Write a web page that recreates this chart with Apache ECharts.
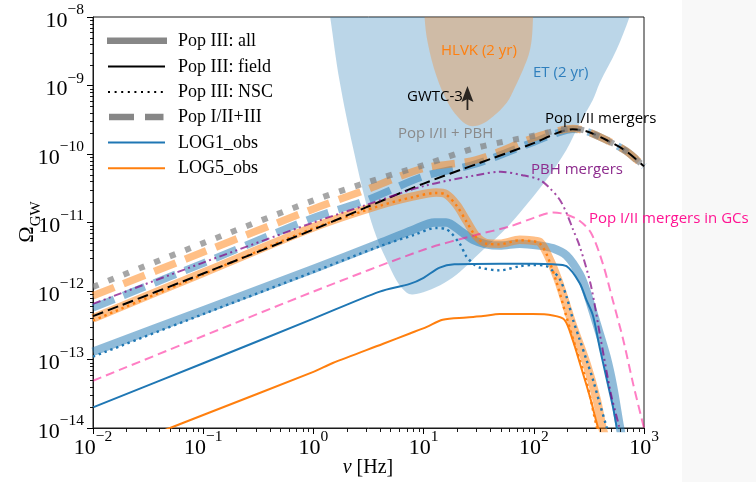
<!DOCTYPE html>
<html>
<head>
<meta charset="utf-8">
<script src="https://cdn.jsdelivr.net/npm/echarts@6/dist/echarts.min.js"></script>
<style>
  html, body { margin: 0; padding: 0; background: #ffffff; }
  #chart { width: 756px; height: 482px; }
</style>
</head>
<body>
<div id="chart"></div>
<script>
// Axis ranges (frequency in Hz, energy density Omega_GW)
const xRange = [1e-2, 1e3];
const yRange = [1e-14, 1e-8];

// Detector power-law sensitivity boundaries (regions above are shaded)
const etCurve = [[1.15, 1e-7], [1.41, 1.08e-8], [1.73, 1.15e-9], [2.29, 1.23e-10], [3.03, 1.82e-11],
  [3.73, 6.2e-12], [4.6, 2.85e-12], [5.66, 1.44e-12], [6.98, 9.5e-13], [7.96, 8.9e-13], [10.7, 1.0e-12],
  [15.5, 1.32e-12], [21.3, 1.9e-12], [32.3, 3.6e-12], [49, 6.6e-12], [74.5, 1.38e-11], [130, 4.2e-11],
  [198, 1.15e-10], [261, 2.8e-10], [344, 6.2e-10], [396, 1.09e-9], [562, 3.3e-9], [742, 1.02e-8], [1014, 4.9e-8]];
const hlvkCurve = [[9.8, 4.9e-8], [10.2, 1.0e-8], [10.9, 4.2e-9], [13.1, 1.36e-9], [16.6, 5.6e-10],
  [20.4, 3.5e-10], [25.7, 2.6e-10], [33, 2.7e-10], [42.4, 3.5e-10], [56.8, 5.6e-10], [67.1, 9.3e-10],
  [79.8, 1.7e-9], [89.9, 2.8e-9], [95.7, 4.7e-9], [98.4, 1.0e-8], [101.8, 4.9e-8]];

// GWTC-3 estimate (arrow base)
const gwtc3 = [[25, 4.4e-10]];

// Pop III: all
const log1All = [[0.01, 1.3e-13], [0.1, 5.2e-13], [1, 2.1e-12], [4, 5.0e-12], [8, 7.8e-12], [12.6, 1.0e-11],
  [16, 1.0e-11], [22.6, 7.1e-12], [28, 5.6e-12], [37, 4.8e-12], [49, 4.6e-12], [74.5, 4.9e-12], [113, 4.6e-12],
  [149, 4.2e-12], [198, 3.3e-12], [261, 1.75e-12], [300, 1.0e-12], [370, 3.4e-13], [456, 1.1e-13],
  [524, 4.0e-14], [603, 1.05e-14], [650, 6e-15]];
const log5All = [[0.01, 4.0e-13], [0.1, 1.85e-12], [1, 8.5e-12], [4, 1.8e-11], [8, 2.4e-11], [13, 2.75e-11],
  [16, 2.6e-11], [20, 1.8e-11], [24.6, 1.05e-11], [30.3, 6.2e-12], [37.3, 5.0e-12], [49, 4.9e-12],
  [74.5, 5.6e-12], [100, 5.4e-12], [113, 5.2e-12], [131, 3.6e-12], [165, 1.5e-12], [225, 3.2e-13],
  [302, 8.5e-14], [372, 2.6e-14], [420, 1.0e-14], [460, 6e-15]];

// Pop III: field
const log1Field = [[0.01, 2.0e-14], [0.1, 8.8e-14], [1, 3.95e-13], [4, 9.8e-13], [7.5, 1.27e-12], [10, 1.56e-12],
  [14, 2.2e-12], [19, 2.45e-12], [50, 2.5e-12], [100, 2.5e-12], [149, 2.45e-12], [198, 2.3e-12],
  [261, 1.3e-12], [300, 7.4e-13], [344, 4.4e-13], [396, 1.5e-13], [456, 5.4e-14], [524, 2.0e-14], [570, 9.5e-15]];
const log5Field = [[0.01, 3.6e-15], [0.05, 1.0e-14], [0.1, 1.55e-14], [1, 6.6e-14], [1.5, 8.9e-14],
  [4.3, 1.7e-13], [7.5, 2.4e-13], [10.7, 3.0e-13], [14.9, 3.8e-13], [24.5, 4.1e-13], [34.7, 4.3e-13],
  [49, 4.6e-13], [98, 4.6e-13], [149, 4.4e-13], [190, 3.8e-13], [225, 1.95e-13], [270, 7.5e-14],
  [322, 2.9e-14], [380, 1.05e-14], [420, 6e-15]];

// Pop III: NSC
const log1Nsc = [[0.01, 1.1e-13], [0.1, 4.6e-13], [1, 1.9e-12], [4, 4.5e-12], [8, 6.5e-12], [13, 8.3e-12],
  [16, 8.0e-12], [21.3, 4.9e-12], [24.4, 3.2e-12], [29, 2.4e-12], [32, 2.2e-12], [49, 2.0e-12], [74.5, 2.3e-12],
  [98.5, 2.4e-12], [130, 2.3e-12], [149, 1.95e-12], [172, 1.5e-12], [198, 8.3e-13], [227, 3.8e-13],
  [261, 1.95e-13], [300, 1.0e-13], [344, 5.1e-14], [396, 2.3e-14], [456, 1.05e-14], [500, 6e-15]];
const log5Nsc = [[0.01, 3.7e-13], [0.1, 1.75e-12], [1, 8.2e-12], [4, 1.75e-11], [8, 2.35e-11], [13, 2.7e-11],
  [16, 2.55e-11], [20, 1.75e-11], [24.6, 1.02e-11], [30.3, 6.0e-12], [37.3, 4.9e-12], [49, 4.8e-12],
  [74.5, 5.5e-12], [100, 5.3e-12], [113, 5.0e-12], [131, 3.4e-12], [162, 1.3e-12], [198, 4.2e-13],
  [243, 1.4e-13], [302, 4.6e-14], [372, 1.05e-14], [400, 7e-15]];

// Pop I/II+III
const log1Pop123 = [[0.01, 5.7e-13], [0.1, 2.55e-12], [1, 1.17e-11], [3, 2.1e-11], [10, 4.7e-11], [30, 7.2e-11],
  [100, 1.5e-10], [160, 2.0e-10], [225, 2.3e-10], [300, 2.15e-10], [456, 1.6e-10], [690, 1.1e-10], [1000, 6.6e-11]];
const log5Pop123 = [[0.01, 8.5e-13], [0.1, 3.7e-12], [1, 1.58e-11], [3, 3.0e-11], [10, 6.2e-11], [30, 8.2e-11],
  [100, 1.73e-10], [160, 2.15e-10], [225, 2.35e-10], [300, 2.15e-10], [456, 1.6e-10], [690, 1.1e-10], [1000, 6.6e-11]];

// Population I/II channels and primordial black holes
const popIIMergers = [[0.01, 4.3e-13], [0.1, 1.8e-12], [1, 7.9e-12], [3, 1.66e-11], [10, 3.7e-11], [30, 7.1e-11],
  [100, 1.44e-10], [160, 2.0e-10], [225, 2.3e-10], [300, 2.15e-10], [456, 1.6e-10], [690, 1.1e-10], [1000, 6.6e-11]];
const popIIPlusPbh = [[0.01, 1.15e-12], [0.1, 5.0e-12], [1, 2.1e-11], [3, 3.8e-11], [10, 6.9e-11], [30, 1.23e-10],
  [100, 1.85e-10], [160, 2.2e-10], [225, 2.35e-10], [300, 2.15e-10], [456, 1.6e-10], [690, 1.1e-10], [1000, 6.6e-11]];
const pbhMergers = [[0.01, 6.5e-13], [0.1, 2.6e-12], [1, 1.0e-11], [3, 1.8e-11], [10, 3.4e-11], [30, 4.9e-11],
  [50, 5.5e-11], [79, 4.9e-11], [113, 4.2e-11], [139, 3.2e-11], [172, 2.15e-11], [198, 1.38e-11], [227, 7.9e-12],
  [261, 4.5e-12], [330, 1.2e-12], [400, 2.2e-13], [500, 3.2e-14], [590, 1.1e-14], [640, 6e-15]];
const popIIGcs = [[0.01, 4.9e-14], [0.1, 2.2e-13], [1, 9.8e-13], [10, 4.0e-12], [30, 6.6e-12], [60, 8.7e-12],
  [100, 1.17e-11], [150, 1.4e-11], [200, 1.3e-11], [260, 1.06e-11], [330, 7.1e-12], [420, 2.6e-12],
  [520, 7.4e-13], [650, 1.9e-13], [800, 4.3e-14], [1000, 1.0e-14]];

// Tick labels (decades)
const xTickLabels = ['10^-2', '10^-1', '10^0', '10^1', '10^2', '10^3'];
const yTickLabels = ['10^-14', '10^-13', '10^-12', '10^-11', '10^-10', '10^-9', '10^-8'];

// ---------------------------------------------------------------------------
const BLUE = '#1f77b4', ORANGE = '#ff7f0e';
const SERIF = '"Liberation Serif", "DejaVu Serif", serif';
const SANS = '"Open Sans", "Noto Sans", sans-serif';

const chart = echarts.init(document.getElementById('chart'), null, { renderer: 'canvas' });

function decadeLabel(v, list) {
  const e = Math.round(Math.log10(v));
  const txt = list.find(t => Number(t.split('^')[1]) === e);
  if (!txt) return '';
  const exp = txt.split('^')[1].replace('-', '\u2212');
  return '{b|10}{s|' + exp + '}';
}
const tickRich = {
  b: { fontFamily: SERIF, fontSize: 22, lineHeight: 30, verticalAlign: 'bottom', color: '#000' },
  s: { fontFamily: SERIF, fontSize: 15.5, lineHeight: 15, verticalAlign: 'top', color: '#000' }
};

function curve(name, data, color, width, dash, z) {
  return {
    type: 'line', name, data, symbol: 'none', showSymbol: false,
    smooth: 0.3, clip: true, silent: true, z: z || 2,
    lineStyle: { color, width, type: dash || 'solid', cap: 'butt', join: 'round' }
  };
}

function region(data, fill) {
  return {
    type: 'custom', silent: true, clip: true, z: 1,
    data: [0],
    renderItem: (params, api) => ({
      type: 'polygon',
      shape: { points: data.map(p => api.coord(p)), smooth: 0.35 },
      style: { fill }
    })
  };
}

// Matplotlib-style log minor ticks (2..9 per decade)
const xMinor = [], yMinor = [];
for (let k = -2; k < 3; k++) for (let m = 2; m < 10; m++) xMinor.push(m * Math.pow(10, k));
for (let k = -14; k < -8; k++) for (let m = 2; m < 10; m++) yMinor.push(m * Math.pow(10, k));

const minorTicks = {
  type: 'custom', silent: true, clip: false, z: 20,
  data: xMinor.map(v => [v, yRange[0], 0]).concat(yMinor.map(v => [xRange[0], v, 1])),
  renderItem: (params, api) => {
    const p = api.coord([api.value(0), api.value(1)]);
    const horiz = api.value(2) === 1;
    const x = Math.round(p[0]) + 0.5, y = Math.round(p[1]) + 0.5;
    return {
      type: 'line',
      shape: horiz ? { x1: x - 3.5, y1: y, x2: x, y2: y } : { x1: x, y1: y, x2: x, y2: y + 3.5 },
      style: { stroke: '#000', lineWidth: 0.9 }
    };
  }
};

const arrowPath = 'path://M6,0 L12,16 L6,13 L0,16 Z M5.1,13 L6.9,13 L6.9,24 L5.1,24 Z';

// Legend drawn as graphic rows
const legendRows = [
  { label: 'Pop III: all', stroke: '#878787', width: 6.5, dash: null, x1: 107, x2: 167 },
  { label: 'Pop III: field', stroke: '#000', width: 2, dash: null, x1: 108, x2: 165 },
  { label: 'Pop III: NSC', stroke: '#000', width: 2, dash: [2, 4.6], x1: 108, x2: 165 },
  { label: 'Pop I/II+III', stroke: '#878787', width: 6.5, dash: [25, 11], x1: 109, x2: 163.5 },
  { label: 'LOG1_obs', stroke: BLUE, width: 2, dash: null, x1: 108, x2: 165 },
  { label: 'LOG5_obs', stroke: ORANGE, width: 2, dash: null, x1: 108, x2: 165 }
];
const legendY = [40.7, 66.4, 91.9, 117.1, 142.5, 168.2];
const legendGraphics = [];
legendRows.forEach((r, i) => {
  legendGraphics.push({
    type: 'line', silent: true, z: 100,
    shape: { x1: r.x1, y1: legendY[i], x2: r.x2, y2: legendY[i] },
    style: { stroke: r.stroke, lineWidth: r.width, lineDash: r.dash, lineCap: 'butt' }
  });
  legendGraphics.push({
    type: 'text', silent: true, z: 100,
    style: { text: r.label, x: 178, y: legendY[i] + 0.5, font: '18px ' + SERIF, fill: '#000', verticalAlign: 'middle' }
  });
});

// Annotations
const notes = [
  { text: 'HLVK (2 yr)', x: 441, y: 51, color: ORANGE },
  { text: 'ET (2 yr)', x: 533, y: 73, color: '#2f7fbd' },
  { text: 'GWTC-3', x: 407, y: 97, color: '#000' },
  { text: 'Pop I/II + PBH', x: 398, y: 133.5, color: '#8a8a8a' },
  { text: 'Pop I/II mergers', x: 545, y: 118.5, color: '#000' },
  { text: 'PBH mergers', x: 531, y: 170, color: '#8d2b8d' },
  { text: 'Pop I/II mergers in GCs', x: 589, y: 218.5, color: '#ff1493' }
];
const noteGraphics = notes.map(n => ({
  type: 'text', silent: true, z: 100,
  style: { text: n.text, x: n.x, y: n.y, font: '15px ' + SANS, fill: n.color, verticalAlign: 'middle' }
}));

const option = {
  animation: false,
  backgroundColor: '#ffffff',
  grid: { left: 93, top: 17, width: 551, height: 411, show: true, borderColor: '#1a1a1a', borderWidth: 1, backgroundColor: 'transparent' },
  xAxis: {
    type: 'log', logBase: 10, min: xRange[0], max: xRange[1], splitNumber: 5,
    axisLine: { show: true, onZero: false, lineStyle: { color: '#1a1a1a', width: 1 } },
    axisTick: { show: true, inside: false, length: 6, lineStyle: { color: '#000', width: 1 } },
    minorTick: { show: false }, splitLine: { show: false },
    axisLabel: { margin: 1, showMinLabel: true, showMaxLabel: true, hideOverlap: false,
      formatter: v => decadeLabel(v, xTickLabels), rich: tickRich }
  },
  yAxis: {
    type: 'log', logBase: 10, min: yRange[0], max: yRange[1], splitNumber: 6,
    axisLine: { show: true, onZero: false, lineStyle: { color: '#1a1a1a', width: 1 } },
    axisTick: { show: true, inside: false, length: 6, lineStyle: { color: '#000', width: 1 } },
    minorTick: { show: false }, splitLine: { show: false },
    axisLabel: { margin: 9, showMinLabel: true, showMaxLabel: true, hideOverlap: false,
      formatter: v => decadeLabel(v, yTickLabels), rich: tickRich }
  },
  graphic: [
    { type: 'rect', silent: true, z: -10, shape: { x: 682, y: 0, width: 74, height: 482 }, style: { fill: '#f8f8f8' } },
    {
      type: 'text', silent: true, z: 100, x: 30, y: 222, rotation: Math.PI / 2,
      style: {
        text: '{o|\u03A9}{g|GW}', align: 'center', verticalAlign: 'middle',
        rich: {
          o: { fontFamily: SERIF, fontSize: 22, lineHeight: 28, verticalAlign: 'top', fill: '#000' },
          g: { fontFamily: SERIF, fontSize: 15, lineHeight: 15, verticalAlign: 'bottom', fill: '#000' }
        }
      }
    },
    {
      type: 'text', silent: true, z: 100, x: 368, y: 468,
      style: {
        text: '{i|\u03BD}{r| [Hz]}', align: 'center', verticalAlign: 'middle',
        rich: {
          i: { fontFamily: SERIF, fontSize: 20, fontStyle: 'italic', fill: '#000' },
          r: { fontFamily: SERIF, fontSize: 20, fill: '#000' }
        }
      }
    }
  ].concat(legendGraphics, noteGraphics),
  series: [
    region(etCurve, 'rgba(31,119,180,0.3)'),
    region(hlvkCurve, 'rgba(255,127,14,0.3)'),
    curve('Pop III: all (LOG1)', log1All, 'rgba(31,119,180,0.5)', 8.5),
    curve('Pop III: all (LOG5)', log5All, 'rgba(255,127,14,0.5)', 8.5),
    curve('Pop I/II+III (LOG1)', log1Pop123, 'rgba(31,119,180,0.5)', 7.5, [23, 10]),
    curve('Pop I/II+III (LOG5)', log5Pop123, 'rgba(255,127,14,0.5)', 7.5, [23, 10]),
    curve('Pop III: field (LOG1)', log1Field, BLUE, 2),
    curve('Pop III: field (LOG5)', log5Field, ORANGE, 2),
    curve('Pop III: NSC (LOG1)', log1Nsc, BLUE, 2.4, [2.4, 3.8]),
    curve('Pop III: NSC (LOG5)', log5Nsc, ORANGE, 2.4, [2.4, 3.8]),
    curve('Pop I/II mergers', popIIMergers, '#000', 2, [11, 5]),
    curve('PBH mergers', pbhMergers, 'rgba(128,0,128,0.7)', 2, [8, 3.5, 2, 3.5, 2, 3.5]),
    curve('Pop I/II mergers in GCs', popIIGcs, 'rgba(255,20,147,0.55)', 2, [9, 5]),
    curve('Pop I/II + PBH', popIIPlusPbh, 'rgba(128,128,128,0.7)', 6, [6, 10.5]),
    {
      type: 'scatter', name: 'GWTC-3', data: gwtc3, silent: true, z: 5,
      symbol: arrowPath, symbolSize: [12, 24], symbolOffset: [0, -12], symbolKeepAspect: false,
      itemStyle: { color: '#000' }
    },
    minorTicks
  ]
};
chart.setOption(option);
</script>
</body>
</html>
